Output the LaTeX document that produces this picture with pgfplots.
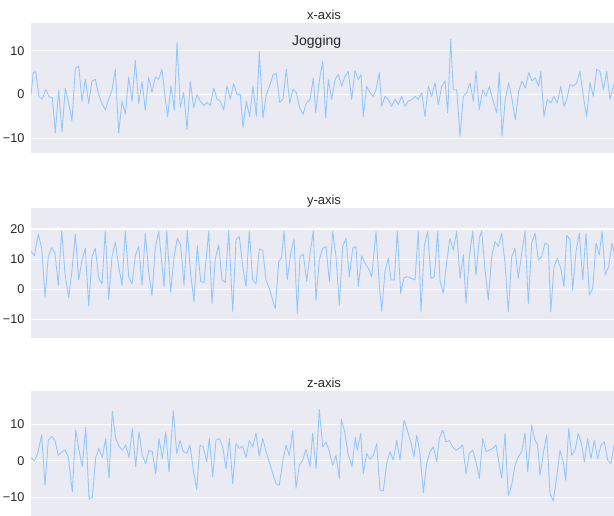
\documentclass[border=0pt]{standalone}
\usepackage{fontspec}
\setmainfont{Liberation Sans}
\usepackage{pgfplots}
\pgfplotsset{compat=1.18}
\definecolor{bg}{HTML}{EAEAF2}
\definecolor{ln}{HTML}{92C6FF}
\definecolor{txt}{HTML}{262626}
\pgfplotsset{
 sub/.style={
  scale only axis, width=439.5pt, height=97.5pt,
  xmin=31, xmax=617,
  axis background/.style={fill=bg},
  axis line style={draw=none},
  ymajorgrids, grid style={white, line width=0.8pt},
  xtick=\empty, major tick length=0pt,
  tick label style={font=\fontsize{9.5}{11}\selectfont, text=txt},
  yticklabel style={xshift=-1.4pt},
  title style={font=\fontsize{9.75}{11}\selectfont, text=txt, at={(0.5,1)}, anchor=base, yshift=-3.6pt},
 },
 sig/.style={ln, line width=0.65pt, line join=round, mark=none},
}
\begin{document}
\begin{tikzpicture}
% x-axis
\begin{axis}[sub, at={(23.25pt,271.5pt)}, anchor=south west,
  ymin=-13.3, ymax=16.3, ytick={-10,0,10}, yticklabels={−10,0,10}, title={x-axis}]
\addplot[sig] coordinates {
(31.0,0)(33.3,5)(35.7,5.2)(39.0,-0.5)(42.3,-1)(45.7,1.2)(49.0,-0.5)(52.3,-0.7)(55.3,-8.7)(58.7,1)
(62.0,-8.5)(65.3,1.5)(68.7,-2)(72.0,-6)(75.3,6)(78.7,6.5)(82.0,-1.5)(85.3,3.5)(88.7,-2)(92.0,3)
(95.3,3.5)(98.7,0)(102.0,-2)(105.3,-3.5)(108.7,-1)(112.0,1)(115.3,5.8)(118.7,-8.8)(122.0,-1.5)(125.3,-4.5)
(128.7,4)(132.0,-1.5)(135.3,7.8)(138.7,-2)(142.0,3)(145.3,-3.5)(148.7,4)(152.0,0.5)(155.3,4)(158.7,3.5)
(162.0,5.8)(165.3,-1)(167.7,-5)(171.0,2)(174.3,-3.5)(177.0,11.8)(180.3,-3)(183.7,0.5)(187.0,-8)(190.3,3)
(193.7,-3)(197.0,0)(200.3,-1.5)(203.7,-2.5)(207.0,-1.8)(210.3,-2.5)(213.7,1.5)(217.0,-1)(220.3,-1.5)(223.7,-3.5)
(227.0,2)(230.3,-1)(233.7,2.5)(237.0,0)(240.3,0)(243.0,-7.5)(246.3,-1.5)(249.7,-5)(253.0,2)(256.3,-5)
(259.3,9.8)(263.0,-5.3)(266.3,0)(269.7,2)(273.0,4.5)(276.3,4.8)(279.7,-1.8)(283.0,-1)(286.3,5.8)(289.7,-2)
(293.0,1.2)(296.3,0.5)(299.7,-3)(303.0,-4.5)(306.3,-2)(310.0,-1.1)(313.3,3.8)(315.7,-4.2)(319.0,2.7)(322.7,7.6)
(325.7,-5.3)(328.3,3.4)(331.7,-1.1)(335.0,3.4)(338.3,4.6)(341.7,1.9)(345.0,4.2)(348.3,5.3)(351.7,-1.1)(355.0,5.5)
(358.3,3.4)(361.0,4.6)(363.3,-5)(366.7,1.9)(370.0,0.4)(373.3,-0.4)(376.0,1.1)(379.3,5)(381.7,-2.7)(385.0,-0.4)
(388.3,-1.1)(391.7,-2.7)(395.0,-1.1)(398.3,-2.3)(401.7,-0.4)(405.0,-2.7)(408.3,-1.5)(411.7,-1.1)(415.0,-0.4)(418.3,-1.1)
(421.7,0.4)(425.0,-5)(428.3,1.9)(431.7,-0.4)(435.0,2.7)(438.3,-2.3)(441.7,1.9)(445.0,3.1)(447.7,-4.2)(450.7,12.6)
(453.3,1.1)(456.7,1.1)(460.0,-9.5)(463.3,-0.4)(466.7,0.4)(470.0,2.7)(473.3,-1.5)(476.0,5.3)(479.3,-3.4)(482.7,1.1)
(486.0,-0.4)(489.3,1.9)(492.7,-1.1)(496.7,-4.2)(499.3,5.1)(502.0,-9.5)(505.3,-1.1)(508.7,2.7)(512.0,-1.1)(515.3,-5.7)
(518.7,0.8)(522.0,3.1)(525.3,1.5)(528.7,5)(532.0,3.1)(535.3,3.8)(538.7,1.9)(540.7,5.3)(544.0,-5)(547.3,-1.1)
(550.7,-1.9)(554.0,-0.4)(557.3,-1.9)(560.7,1.9)(564.0,-2.7)(566.7,-1.1)(570.0,2.3)(573.3,1.9)(576.7,2.7)(580.0,5.3)
(583.3,-0.4)(586.7,-5)(590.0,2.7)(593.3,-0.4)(596.7,5.7)(600.0,5.3)(603.3,1.1)(606.7,5.3)(610.0,-1.1)(613.3,1.9)(617.0,4)
};
\end{axis}
% y-axis
\begin{axis}[sub, at={(23.25pt,132.975pt)}, anchor=south west,
  ymin=-16.2, ymax=27.1, ytick={-10,0,10,20}, yticklabels={−10,0,10,20}, title={y-axis}]
\addplot[sig] coordinates {
(31.0,12.5)(34.3,11.1)(38.3,18.3)(41.7,13.6)(45.0,-2.6)(48.3,10.8)(51.7,13.8)(55.0,11.9)(58.3,1.3)(61.7,19.4)
(65.0,5.2)(68.7,-2.9)(72.0,6.4)(75.3,18.3)(78.7,3)(82.0,9.7)(85.3,13.6)(88.7,-5.6)(92.0,10.8)(95.3,13.6)
(98.7,3.6)(102.0,1.7)(105.3,19.4)(108.7,-3.5)(112.0,10.8)(115.3,15.6)(118.7,7.5)(122.0,1.3)(125.3,19.4)(128.7,4.1)
(132.0,1.7)(135.3,11.1)(138.7,14.2)(142.0,1.3)(145.3,18.6)(148.7,5.8)(152.0,-2.2)(155.3,13.8)(158.7,19.2)(162.0,8)
(164.0,0.8)(166.7,19.4)(170.7,-1.1)(174.0,10.8)(177.3,16.9)(180.7,14.7)(184.0,1.3)(187.3,19.4)(190.7,4.7)(194.0,-4)
(197.3,14.5)(200.7,2.5)(204.0,2.2)(208.7,19.4)(212.0,-4.9)(215.3,10)(218.7,14.7)(222.0,3)(225.3,2.2)(228.7,19.4)
(232.7,-7.6)(236.0,16.4)(239.3,17.5)(242.7,7.5)(246.0,0.8)(249.3,19.4)(252.7,3)(256.0,1.7)(259.3,13.4)(262.7,13)
(266.0,3)(269.3,0.2)(272.7,-3.7)(275.3,-6.5)(278.7,9.1)(281.7,10.5)(284.0,19.4)(287.3,3)(290.7,11.9)(294.0,16.7)
(297.3,-8.1)(300.0,10.8)(303.3,11.6)(306.7,2.5)(310.0,11.6)(313.3,19.4)(316.0,-3.7)(319.3,9.7)(322.7,13.6)(326.0,14.2)
(329.3,2.5)(332.7,19.2)(336.0,10.8)(339.3,-5.4)(342.7,14.2)(346.0,16.9)(349.3,4.1)(352.7,13.6)(356.0,14.2)(358.3,0.8)
(361.7,11.1)(365.0,8.6)(368.3,6.9)(371.7,4.1)(376.0,19.2)(379.3,1.3)(381.7,-7.4)(385.0,5.8)(388.3,10.3)(391.0,3)
(394.3,3)(397.3,19.2)(400.7,-1.4)(404.0,3.8)(407.3,4.1)(411.7,3.6)(415.0,3)(418.3,19.2)(421.0,-7.6)(424.3,14.2)
(427.7,19.2)(431.0,3.6)(434.3,4.1)(437.7,19.2)(440.0,3)(443.3,-1.4)(446.7,9.1)(450.0,16.9)(453.3,13)(456.7,19.2)
(460.0,3.6)(463.3,11.4)(466.0,-4.8)(469.3,10.8)(472.7,19.2)(476.0,4.7)(479.3,16.9)(481.7,19.4)(485.0,6.4)(488.3,-3.7)
(491.7,10.8)(495.0,15.8)(498.3,14.2)(501.7,18.6)(505.0,8.6)(508.3,-7.6)(511.7,10.8)(515.0,13.6)(518.3,3.6)(521.7,11.9)
(525.0,19.2)(528.3,-4.8)(531.7,15.3)(535.0,18.6)(538.3,9.7)(541.7,10.8)(545.0,15.3)(548.3,14.7)(550.7,-7.6)(554.0,7.5)
(557.3,10.3)(560.7,6.9)(564.0,0.8)(566.7,18)(570.0,16.4)(572.7,-0.3)(576.0,12.5)(579.3,18.6)(582.7,3)(586.0,18.6)
(589.3,-2)(592.7,0.2)(596.0,15.3)(599.3,11.4)(602.0,19.2)(605.3,4.7)(608.7,7.5)(612.0,15.3)(617.0,8)
};
\end{axis}
% z-axis
\begin{axis}[sub, at={(23.25pt,-4.275pt)}, anchor=south west,
  ymin=-16.3, ymax=19.1, ytick={-10,0,10}, yticklabels={−10,0,10}, title={z-axis}]
\addplot[sig] coordinates {
(31.0,0.9)(34.3,0)(37.7,2)(41.7,7)(45.0,-6.6)(48.3,5.6)(51.7,6.7)(55.0,5.5)(58.3,1.5)(61.7,2.5)
(65.0,2.9)(68.3,1.1)(72.3,-8.5)(75.7,8.4)(79.0,2.9)(82.3,-1.6)(85.7,9.1)(89.0,-10.3)(92.3,-10)(95.7,0.9)
(99.0,3.4)(102.3,0.9)(105.7,6.1)(109.0,-4.8)(112.3,13.4)(115.7,6.1)(119.0,4)(122.3,2.9)(125.7,4.3)(129.0,0.9)
(132.3,8.8)(135.7,-1.6)(139.0,7.9)(142.3,1.5)(145.7,-0.7)(149.0,2.9)(152.3,2.5)(155.7,-3.5)(159.0,6.1)(162.3,0.6)
(165.7,7.9)(169.0,-3)(173.3,13.6)(176.7,2)(180.0,5.6)(183.3,2.5)(186.7,2)(190.0,4.3)(193.3,-2.5)(196.7,-7.8)
(200.0,4.3)(203.3,3.8)(206.7,-0.3)(209.3,6.1)(212.7,-4.4)(216.0,5.6)(219.3,6.1)(222.7,3.8)(226.0,-2.1)(229.3,6.1)
(232.7,-6.2)(236.0,4.7)(239.3,3.4)(242.7,4)(246.0,0.9)(249.3,5.5)(252.7,3.8)(256.0,7.5)(259.3,1.3)(262.7,6.1)
(266.0,2.5)(269.3,-0.3)(272.7,-3.5)(276.0,-6.2)(279.3,-6.6)(282.7,-0.3)(286.0,4.3)(289.3,1.5)(292.7,8.2)(296.0,-7.5)
(299.3,-1.2)(302.7,0.2)(306.0,3.1)(310.0,-1.6)(312.7,7.5)(316.0,-2.1)(319.3,14)(322.7,3.8)(326.0,5.2)(329.3,2.5)
(332.7,-1.2)(336.0,1.5)(339.3,-4.8)(341.3,11.3)(344.7,7.9)(348.0,2)(352.0,-1.6)(355.3,6.5)(357.3,2.9)(360.7,7.5)
(363.3,-3.5)(366.7,2)(370.0,0.4)(373.3,1.5)(376.7,4.7)(380.0,-8)(383.3,-8.2)(386.7,-0.7)(390.0,2.5)(393.3,0.2)
(396.7,5.6)(400.0,0.2)(404.0,11.1)(407.3,8.4)(410.7,5.2)(414.0,1.1)(416.7,7)(420.0,2)(423.3,-8.7)(426.7,-0.7)
(430.0,2.5)(433.3,3.8)(436.7,-0.3)(439.3,6.1)(442.7,8.4)(446.0,5.2)(449.3,5.5)(452.7,3.8)(456.0,2.9)(459.3,3.4)
(462.7,4.3)(466.0,-3.5)(469.3,2)(472.7,2.9)(476.0,-0.3)(479.3,-4.8)(482.7,6.1)(486.0,2.5)(489.3,2.9)(492.7,3.4)
(496.0,4.3)(499.3,-1.2)(501.7,-4.8)(505.0,7.5)(508.3,-9.4)(511.7,-6.6)(515.0,-1.2)(518.3,1.1)(521.7,2.5)(525.0,7.5)
(527.7,-3)(531.7,9.7)(535.0,5.6)(537.7,4.3)(540.0,-3.9)(543.3,2)(546.7,7)(550.0,-8.9)(553.3,-10.9)(556.7,-4.4)
(560.0,2.9)(563.3,-0.3)(565.7,-5.3)(568.7,8.8)(571.7,1.5)(575.0,2.9)(578.3,7.5)(581.7,4.3)(584.3,-0.3)(587.7,6.1)
(591.0,0.6)(594.3,5.6)(597.7,0.6)(601.0,4.3)(604.3,5.2)(607.7,0.2)(611.0,-0.7)(614.0,4.3)(617.0,1)
};
\end{axis}
\node[font=\fontsize{10.5}{12}\selectfont, text=txt, anchor=base] at (237.5pt,351.975pt) {Jogging};
\pgfresetboundingbox
\useasboundingbox (0,0) rectangle (460.5pt,386.25pt);
\end{tikzpicture}
\end{document}
